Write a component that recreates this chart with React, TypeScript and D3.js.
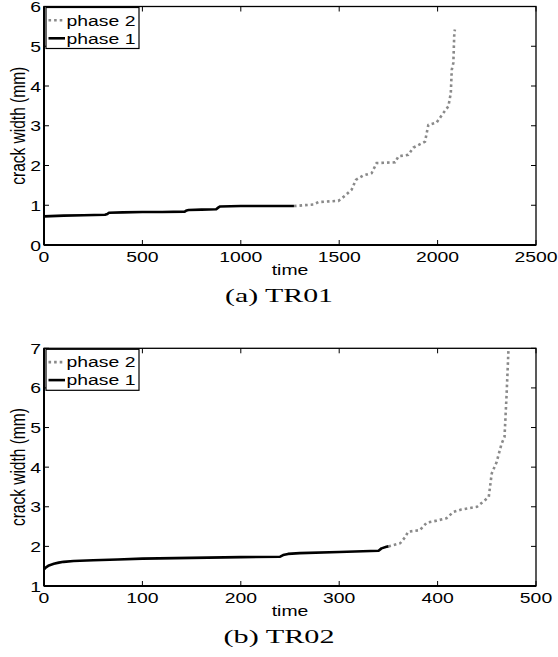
import React from "react";
import * as d3 from "d3";

// ---------- Data ----------
// TR01
const tr01Phase1T = [0, 100, 200, 310, 322, 330, 400, 500, 600, 715, 725, 735, 800, 875, 885, 895, 1000, 1100, 1200, 1270];
const tr01Phase1W = [0.72, 0.74, 0.75, 0.76, 0.78, 0.81, 0.82, 0.83, 0.83, 0.84, 0.87, 0.88, 0.89, 0.9, 0.94, 0.97, 0.98, 0.98, 0.98, 0.98];
const tr01Phase2T = [1270, 1369, 1394, 1496, 1530, 1563, 1585, 1623, 1665, 1690, 1784, 1801, 1851, 1877, 1936, 1953, 1995, 2029, 2055, 2067, 2072, 2080, 2085, 2088];
const tr01Phase2W = [0.98, 1.02, 1.08, 1.11, 1.24, 1.39, 1.64, 1.75, 1.81, 2.06, 2.08, 2.23, 2.27, 2.45, 2.6, 3.02, 3.08, 3.32, 3.49, 3.82, 4.41, 4.58, 5.34, 5.42];
// TR02
const tr02Phase1T = [0, 2, 5, 10, 15, 20, 30, 50, 75, 100, 150, 200, 240, 243, 248, 260, 300, 340, 343, 348, 350];
const tr02Phase1W = [1.42, 1.47, 1.52, 1.56, 1.59, 1.61, 1.63, 1.65, 1.67, 1.69, 1.71, 1.73, 1.74, 1.78, 1.81, 1.83, 1.86, 1.89, 1.95, 1.99, 2.0];
const tr02Phase2T = [350, 362, 367, 370, 382, 389, 399, 409, 416, 424, 440, 445, 452, 455, 460, 465, 468, 470, 472];
const tr02Phase2W = [2.0, 2.08, 2.23, 2.37, 2.41, 2.6, 2.65, 2.71, 2.87, 2.93, 3.0, 3.1, 3.25, 3.84, 4.13, 4.59, 4.76, 5.77, 6.95];

const tr01XTicks = [0, 500, 1000, 1500, 2000, 2500];
const tr01YTicks = [0, 1, 2, 3, 4, 5, 6];
const tr02XTicks = [0, 100, 200, 300, 400, 500];
const tr02YTicks = [1, 2, 3, 4, 5, 6, 7];

const legendLabels = ["phase 2", "phase 1"];
const xLabel = "time";
const yLabel = "crack width (mm)";

// ---------- Styles ----------
const SANS = "'Liberation Sans', Arial, Helvetica, sans-serif";
const SERIF = "'Liberation Serif', 'Times New Roman', serif";
const FS = 15.5;
const STRETCH = 1.25;
const GREY = "#8a8a8a";

function SText({ x, y, anchor = "start", children, rotate = false }: any) {
  const tf = rotate
    ? `translate(${x},${y}) scale(${STRETCH},1) rotate(-90)`
    : `translate(${x},${y}) scale(${STRETCH},1)`;
  return (
    <text transform={tf} textAnchor={anchor} fontFamily={SANS} fontSize={FS} fill="#000">
      {children}
    </text>
  );
}

type PanelProps = {
  top: number;
  bottom: number;
  xDomain: [number, number];
  yDomain: [number, number];
  xTicks: number[];
  yTicks: number[];
  p1T: number[];
  p1W: number[];
  p2T: number[];
  p2W: number[];
  caption: string;
  captionWidth: number;
};

const LEFT = 44;
const RIGHT = 536;

function Panel(props: PanelProps) {
  const { top, bottom, xDomain, yDomain, xTicks, yTicks, p1T, p1W, p2T, p2W, caption, captionWidth } = props;
  const x = d3.scaleLinear().domain(xDomain).range([LEFT, RIGHT]);
  const y = d3.scaleLinear().domain(yDomain).range([bottom, top]);
  const line = d3
    .line<[number, number]>()
    .x((d) => x(d[0]))
    .y((d) => y(d[1]));
  const p1 = p1T.map((t, i) => [t, p1W[i]] as [number, number]);
  const p2 = p2T.map((t, i) => [t, p2W[i]] as [number, number]);
  const tickLen = 5;
  const midX = (LEFT + RIGHT) / 2;
  const midY = (top + bottom) / 2;
  const legX = 46;
  const legY = top + 1;
  const legW = 93;
  const legH = 41;
  const row1 = top + 13.8;
  const row2 = top + 31.8;

  return (
    <g>
      {/* data */}
      <path d={line(p2) || ""} fill="none" stroke={GREY} strokeWidth={2.6} strokeDasharray="2.6,3" />
      <path d={line(p1) || ""} fill="none" stroke="#000" strokeWidth={2.6} strokeLinejoin="round" />

      {/* frame */}
      <rect x={LEFT} y={top} width={RIGHT - LEFT} height={bottom - top} fill="none" stroke="#000" strokeWidth={1.3} />
      <line x1={LEFT} x2={LEFT} y1={top} y2={bottom} stroke="#000" strokeWidth={2} />
      <line x1={LEFT} x2={RIGHT} y1={bottom} y2={bottom} stroke="#000" strokeWidth={2} />

      {/* x ticks */}
      {xTicks.map((t) => (
        <g key={"xt" + t}>
          <line x1={x(t)} x2={x(t)} y1={bottom} y2={bottom - tickLen} stroke="#000" strokeWidth={1} />
          <line x1={x(t)} x2={x(t)} y1={top} y2={top + tickLen} stroke="#000" strokeWidth={1} />
          <SText x={x(t)} y={bottom + 16.5} anchor="middle">
            {String(t)}
          </SText>
        </g>
      ))}
      {/* y ticks */}
      {yTicks.map((t) => (
        <g key={"yt" + t}>
          <line x1={LEFT} x2={LEFT + tickLen} y1={y(t)} y2={y(t)} stroke="#000" strokeWidth={1} />
          <line x1={RIGHT} x2={RIGHT - tickLen} y1={y(t)} y2={y(t)} stroke="#000" strokeWidth={1} />
          <SText x={41} y={y(t) + 5.5} anchor="end">
            {String(t)}
          </SText>
        </g>
      ))}

      {/* axis labels */}
      <SText x={midX} y={bottom + 29.5} anchor="middle">
        {xLabel}
      </SText>
      <SText x={24.5} y={midY} anchor="middle" rotate>
        {yLabel}
      </SText>

      {/* legend */}
      <rect x={legX} y={legY} width={legW} height={legH} fill="#fff" stroke="#000" strokeWidth={1.2} />
      <line x1={48.5} x2={65} y1={row1} y2={row1} stroke={GREY} strokeWidth={2.6} strokeDasharray="2.6,3" />
      <line x1={48.5} x2={65} y1={row2} y2={row2} stroke="#000" strokeWidth={2.6} />
      <SText x={66.5} y={row1 + 5.2}>
        {legendLabels[0]}
      </SText>
      <SText x={66.5} y={row2 + 5.2}>
        {legendLabels[1]}
      </SText>

      {/* caption */}
      <text
        x={midX - 11 - captionWidth / 2}
        y={bottom + 56.5}
        fontFamily={SERIF}
        fontSize={19}
        textLength={captionWidth}
        lengthAdjust="spacingAndGlyphs"
        fill="#000"
      >
        {caption}
      </text>
    </g>
  );
}

export default function App() {
  return (
    <svg
      width={558}
      height={657}
      viewBox="0 0 558 657"
      style={{ position: "absolute", left: 0, top: 0, background: "#fff" }}
    >
      <rect x={0} y={0} width={558} height={657} fill="#fff" />
      <Panel
        top={6.5}
        bottom={245}
        xDomain={[0, 2500]}
        yDomain={[0, 6]}
        xTicks={tr01XTicks}
        yTicks={tr01YTicks}
        p1T={tr01Phase1T}
        p1W={tr01Phase1W}
        p2T={tr01Phase2T}
        p2W={tr01Phase2W}
        caption="(a)  TR01"
        captionWidth={108}
      />
      <Panel
        top={348.3}
        bottom={586}
        xDomain={[0, 500]}
        yDomain={[1, 7]}
        xTicks={tr02XTicks}
        yTicks={tr02YTicks}
        p1T={tr02Phase1T}
        p1W={tr02Phase1W}
        p2T={tr02Phase2T}
        p2W={tr02Phase2W}
        caption="(b)  TR02"
        captionWidth={111}
      />
    </svg>
  );
}
